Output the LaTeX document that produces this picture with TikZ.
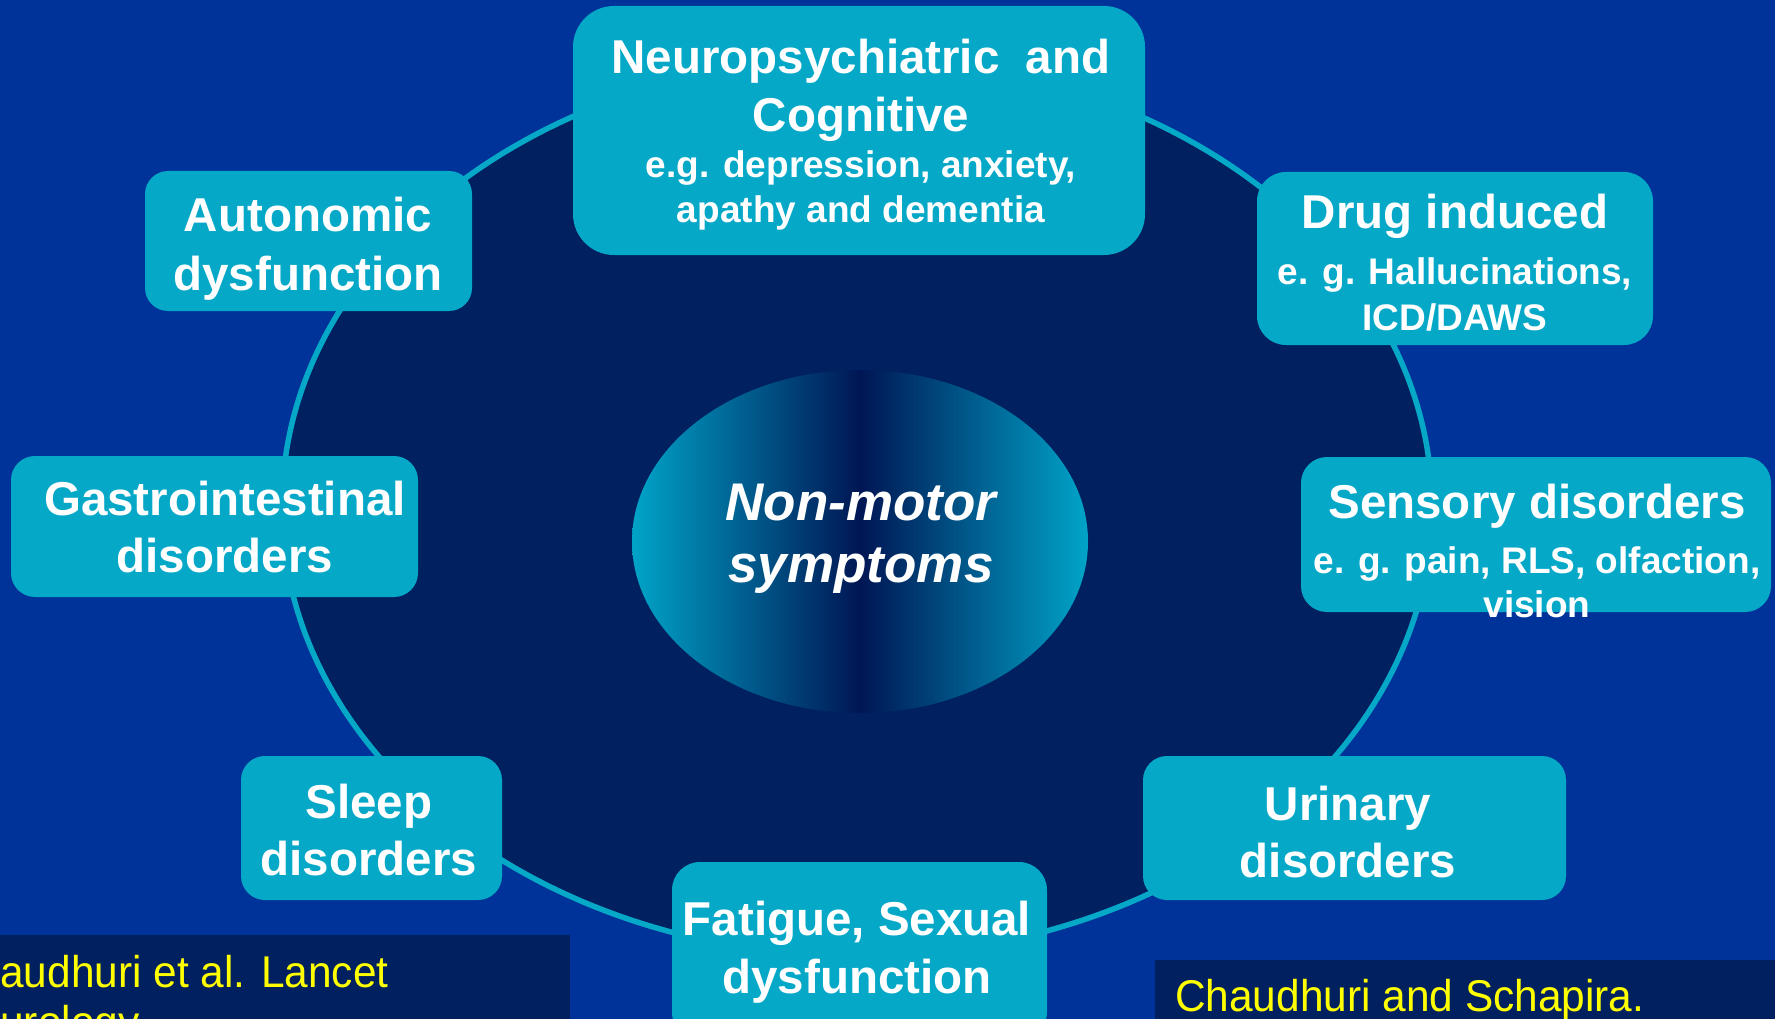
\documentclass[tikz,border=0pt]{standalone}
\usepackage{fontspec}
\setmainfont{Liberation Sans}
\newfontfamily\notefont[FakeStretch=0.953]{Liberation Sans}
\usetikzlibrary{shapes.geometric}
\definecolor{bgblue}{RGB}{0,51,153}
\definecolor{navy}{RGB}{0,32,96}
\definecolor{boxc}{RGB}{6,168,200}
\definecolor{ringc}{RGB}{6,168,200}
\definecolor{edgec}{RGB}{0,164,200}
\definecolor{corec}{RGB}{0,22,84}
\definecolor{noteyellow}{RGB}{255,255,0}
\begin{document}
\begin{tikzpicture}[x=1pt,y=-1pt,
  card/.style={rectangle, fill=boxc, draw=none, inner sep=0pt},
  ttl/.style={anchor=base, text=white, inner sep=0pt, font=\fontsize{47.5}{57}\selectfont\bfseries},
  sub/.style={anchor=base, text=white, inner sep=0pt, font=\fontsize{37}{44}\selectfont\bfseries},
  core/.style={anchor=base, text=white, inner sep=0pt, font=\fontsize{53}{62}\selectfont\bfseries\itshape},
  note/.style={anchor=base west, text=noteyellow, inner sep=0pt, font=\notefont\fontsize{44.5}{52}\selectfont},
  notebox/.style={rectangle, fill=navy, draw=none, inner sep=0pt}]
\useasboundingbox (0,0) rectangle (1775,1019);
\fill[bgblue] (0,0) rectangle (1775,1019);
\clip (0,0) rectangle (1775,1019);

% ring
\node (ring) [ellipse, draw=ringc, line width=5.5pt, fill=navy, inner sep=0pt,
  minimum width=1150pt, minimum height=898pt] at (857,507) {};

% central ellipse
\node (hub) [ellipse, draw=none, inner sep=0pt, minimum width=456pt, minimum height=343pt,
  left color=edgec, right color=edgec, middle color=corec] at (860,541.5) {};
\node (hubA) [core] at (861,520) {Non-motor};
\node (hubB) [core] at (861,582) {symptoms};

% boxes
\node (neuro) [card, rounded corners=41pt, minimum width=572pt, minimum height=249pt] at (859,130.5) {};
\node (auto)  [card, rounded corners=23pt, minimum width=327pt, minimum height=140pt] at (308.5,241) {};
\node (drug)  [card, rounded corners=29pt, minimum width=396pt, minimum height=173pt] at (1455,258.5) {};
\node (gi)    [card, rounded corners=24pt, minimum width=407pt, minimum height=141pt] at (214.5,526.5) {};
\node (sens)  [card, rounded corners=26pt, minimum width=470pt, minimum height=155pt] at (1536,534.5) {};
\node (sleep) [card, rounded corners=24pt, minimum width=261pt, minimum height=144pt] at (371.5,828) {};
\node (fat)   [card, rounded corners=28pt, minimum width=375pt, minimum height=178pt] at (859.5,951) {};
\node (uri)   [card, rounded corners=24pt, minimum width=423pt, minimum height=144pt] at (1354.5,828) {};

% texts
\node (neuroA) [ttl] at (861,74) {Neuropsychiatric\ \ and};
\node (neuroB) [ttl] at (861,132) {Cognitive};
\node (neuroC) [sub] at (861,178) {e.g. depression, anxiety,};
\node (neuroD) [sub] at (861,223) {apathy and dementia};

\node (autoA) [ttl] at (308,232) {Autonomic};
\node (autoB) [ttl] at (308,290) {dysfunction};

\node (drugA) [ttl] at (1455,229) {Drug induced};
\node (drugB) [sub] at (1455,284) {e. g. Hallucinations,};
\node (drugC) [sub] at (1455,330) {ICD/DAWS};

\node (giA) [ttl] at (225,515) {Gastrointestinal};
\node (giB) [ttl] at (225,572) {disorders};

\node (sensA) [ttl] at (1537,518) {Sensory disorders};
\node (sensB) [sub] at (1537,573) {e. g. pain, RLS, olfaction,};
\node (sensC) [sub] at (1537,617) {vision};

\node (sleepA) [ttl] at (369,818) {Sleep};
\node (sleepB) [ttl] at (369,875) {disorders};

\node (fatA) [ttl] at (857,935) {Fatigue, Sexual};
\node (fatB) [ttl] at (857,993) {dysfunction};

\node (uriA) [ttl] at (1348,820) {Urinary};
\node (uriB) [ttl] at (1348,877) {disorders};

% reference notes
\node (refL) [notebox, minimum width=570pt, minimum height=84pt] at (285,977) {};
\node (refR) [notebox, minimum width=620pt, minimum height=60pt] at (1465,990) {};
\node (refLa) [note] at (-54,987) {Chaudhuri et al. Lancet};
\node (refLb) [note] at (-54,1037) {Neurology};
\node (refRa) [note] at (1175,1011) {Chaudhuri and Schapira.};
\end{tikzpicture}
\end{document}
